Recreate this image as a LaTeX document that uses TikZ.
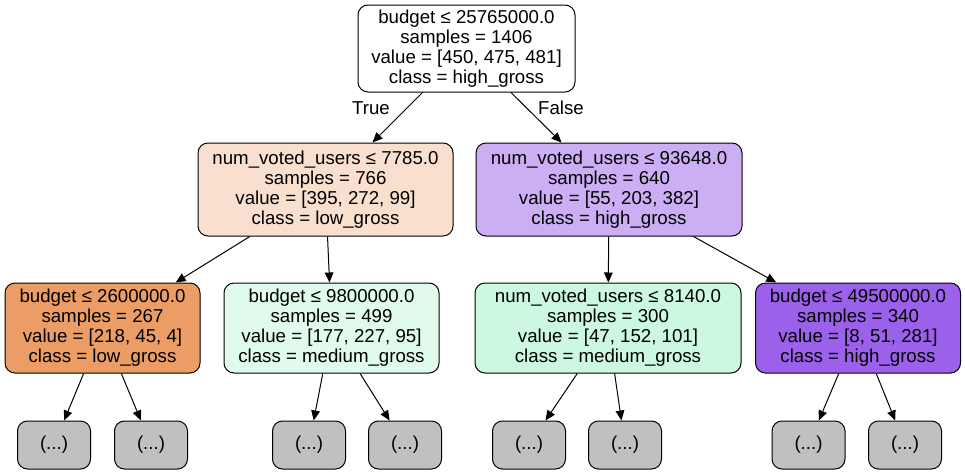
\documentclass[tikz,border=0pt]{standalone}
\usepackage{fontspec}
\setmainfont{Liberation Sans}
\usetikzlibrary{arrows.meta}

\definecolor{lowfill}{RGB}{249,224,206}
\definecolor{highfill}{RGB}{203,174,244}
\definecolor{lowdeep}{RGB}{235,157,101}
\definecolor{medfill}{RGB}{224,251,235}
\definecolor{medmid}{RGB}{204,248,223}
\definecolor{highdeep}{RGB}{155,97,234}
\definecolor{leafgray}{RGB}{192,192,192}

\tikzset{
  split/.style={draw, rounded corners=7.5pt, align=center, inner sep=0pt,
    line width=0.75pt, font=\fontsize{14}{15}\selectfont},
  leaf/.style={split, fill=leafgray, minimum width=54.75pt, minimum height=36pt},
  branch/.style={-{Triangle[length=7.5pt,width=6.5pt]}, line width=0.75pt}
}

\begin{document}
\begin{tikzpicture}[x=0.75pt, y=-0.75pt]
    \useasboundingbox (0, 0) rectangle (965, 475);

    \node[split, fill=white, minimum width=162.75pt, minimum height=65.25pt] (root) at (466.5, 48.5)
        {budget ≤ 25765000.0\\samples = 1406\\value = [450, 475, 481]\\class = high\_gross};
    \node[split, fill=lowfill, minimum width=191.25pt, minimum height=69.75pt] (votesL) at (325.5, 189.5)
        {num\_voted\_users ≤ 7785.0\\samples = 766\\value = [395, 272, 99]\\class = low\_gross};
    \node[split, fill=highfill, minimum width=199.5pt, minimum height=69.75pt] (votesR) at (609, 189.5)
        {num\_voted\_users ≤ 93648.0\\samples = 640\\value = [55, 203, 382]\\class = high\_gross};

    \node[split, fill=lowdeep, minimum width=146.25pt, minimum height=67.5pt] (budgetA) at (102.5, 328)
        {budget ≤ 2600000.0\\samples = 267\\value = [218, 45, 4]\\class = low\_gross};
    \node[split, fill=medfill, minimum width=161.25pt, minimum height=67.5pt] (budgetB) at (331.5, 328)
        {budget ≤ 9800000.0\\samples = 499\\value = [177, 227, 95]\\class = medium\_gross};
    \node[split, fill=medmid, minimum width=199.5pt, minimum height=67.5pt] (votesC) at (608, 328)
        {num\_voted\_users ≤ 8140.0\\samples = 300\\value = [47, 152, 101]\\class = medium\_gross};
    \node[split, fill=highdeep, minimum width=153.75pt, minimum height=67.5pt] (budgetD) at (858, 328)
        {budget ≤ 49500000.0\\samples = 340\\value = [8, 51, 281]\\class = high\_gross};

    \node[leaf] (leaf1) at (54, 445) {(...)};
    \node[leaf] (leaf2) at (151, 445) {(...)};
    \node[leaf] (leaf3) at (309, 445) {(...)};
    \node[leaf] (leaf4) at (405, 445) {(...)};
    \node[leaf] (leaf5) at (529, 445) {(...)};
    \node[leaf] (leaf6) at (625, 445) {(...)};
    \node[leaf] (leaf7) at (808.5, 445) {(...)};
    \node[leaf] (leaf8) at (905, 445) {(...)};

    \draw[branch] (root) -- (votesL);
    \draw[branch] (root) -- (votesR);
    \node[font=\fontsize{14}{15}\selectfont] (yes) at (371, 108) {True};
    \node[font=\fontsize{14}{15}\selectfont] (no) at (561, 108) {False};

    \draw[branch] (votesL) -- (budgetA);
    \draw[branch] (votesL) -- (budgetB);
    \draw[branch] (votesR) -- (votesC);
    \draw[branch] (votesR) -- (budgetD);

    \draw[branch] (budgetA) -- (leaf1);
    \draw[branch] (budgetA) -- (leaf2);
    \draw[branch] (budgetB) -- (leaf3);
    \draw[branch] (budgetB) -- (leaf4);
    \draw[branch] (votesC) -- (leaf5);
    \draw[branch] (votesC) -- (leaf6);
    \draw[branch] (budgetD) -- (leaf7);
    \draw[branch] (budgetD) -- (leaf8);
\end{tikzpicture}
\end{document}
